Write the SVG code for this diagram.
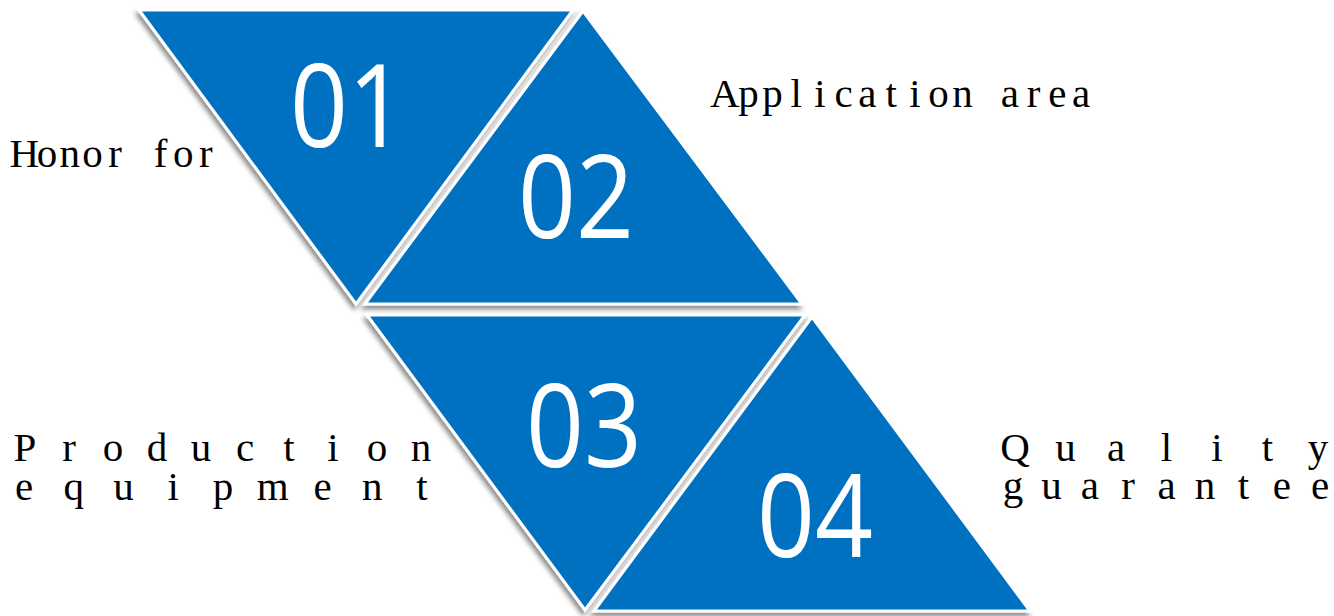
<svg xmlns="http://www.w3.org/2000/svg" width="1334" height="616" viewBox="0 0 1334 616">
  <defs>
    <filter id="shadow" x="-10%" y="-10%" width="120%" height="125%">
      <feDropShadow dx="-2" dy="4" stdDeviation="2.5" flood-color="#000" flood-opacity="0.45"/>
    </filter>
  </defs>
  <style>
    .tri { fill: #0070C0; stroke: #ffffff; stroke-width: 3; stroke-linejoin: miter; filter: url(#shadow); }
    .num { font-family: "Open Sans", "Noto Sans", sans-serif; font-size: 116px; fill: #ffffff; text-anchor: middle; }
    .lbl { font-family: "Liberation Serif", "DejaVu Serif", serif; fill: #000000; text-anchor: middle; font-size: 41px; }
  </style>
  <rect width="1334" height="616" fill="#ffffff"/>

  <g id="node-01">
    <polygon class="tri" points="139,10 573,10 356,304"/>
    <text class="num" x="348" y="147" textLength="116" lengthAdjust="spacingAndGlyphs">01</text>
  </g>
  <g id="node-02">
    <polygon class="tri" points="583,11 365,304 802,304"/>
    <text class="num" x="576" y="238" textLength="116" lengthAdjust="spacingAndGlyphs">02</text>
  </g>
  <g id="node-03">
    <polygon class="tri" points="367,315 805,315 585,610"/>
    <text class="num" x="584" y="467" textLength="116" lengthAdjust="spacingAndGlyphs">03</text>
  </g>
  <g id="node-04">
    <polygon class="tri" points="812,317 594,611 1030,611"/>
    <text class="num" x="815" y="557" textLength="116" lengthAdjust="spacingAndGlyphs">04</text>
  </g>

  <g id="label-honor">
    <text class="lbl" x="24.3 47 69.7 92.4 115.1 137.8 160.5 183.2 205.9" y="167">Honor for</text>
  </g>
  <g id="label-application">
    <text class="lbl" x="724.9 748.6 772.4 796.1 819.9 843.6 867.4 891.1 914.9 938.6 962.4 986.1 1009.9 1033.6 1057.4 1081.1" y="107">Application area</text>
  </g>
  <g id="label-production">
    <text class="lbl" x="25 69 113 157 201 245 289 333 377 421" y="461">Production</text>
    <text class="lbl" x="24 73.75 123.5 173.25 223 272.75 322.5 372.25 422" y="500">equipment</text>
  </g>
  <g id="label-quality">
    <text class="lbl" x="1015 1065.5 1116 1166.5 1217 1267.5 1318" y="461">Quality</text>
    <text class="lbl" x="1013 1051.4 1089.8 1128.2 1166.6 1205 1243.4 1281.8 1320.2" y="499">guarantee</text>
  </g>
</svg>
